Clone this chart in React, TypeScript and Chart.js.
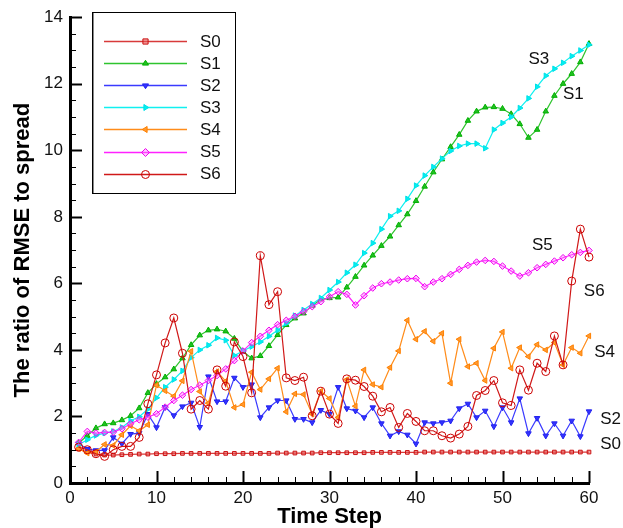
import React, { useEffect, useRef } from 'react';
import { Chart, registerables } from 'chart.js';

Chart.register(...registerables);

// ---- data ----
const steps = [
  1, 2, 3, 4, 5, 6, 7, 8, 9, 10, 11, 12, 13, 14, 15, 16, 17, 18, 19, 20,
  21, 22, 23, 24, 25, 26, 27, 28, 29, 30, 31, 32, 33, 34, 35, 36, 37, 38, 39, 40,
  41, 42, 43, 44, 45, 46, 47, 48, 49, 50, 51, 52, 53, 54, 55, 56, 57, 58, 59, 60,
];

const S0 = [
  1.02, 0.93, 0.87, 0.84, 0.84, 0.85, 0.86, 0.87, 0.87, 0.88, 0.88, 0.88, 0.89, 0.89, 0.89,
  0.89, 0.89, 0.89, 0.89, 0.89, 0.89, 0.89, 0.89, 0.9, 0.9, 0.9, 0.9, 0.9, 0.91, 0.91,
  0.91, 0.91, 0.91, 0.91, 0.92, 0.92, 0.92, 0.92, 0.92, 0.92, 0.93, 0.93, 0.93, 0.93, 0.93,
  0.93, 0.93, 0.93, 0.93, 0.93, 0.93, 0.93, 0.93, 0.93, 0.93, 0.93, 0.93, 0.93, 0.93, 0.93,
];
const S1 = [
  1.2, 1.42, 1.65, 1.77, 1.8, 1.89, 2.02, 2.25, 2.71, 2.98, 3.18, 3.42, 3.75, 4.15, 4.44,
  4.59, 4.62, 4.56, 4.34, 3.95, 3.75, 3.82, 4.12, 4.45, 4.75, 4.95, 5.1, 5.33, 5.52, 5.56,
  5.58, 5.88, 6.2, 6.54, 6.84, 7.13, 7.41, 7.75, 8.08, 8.48, 8.91, 9.34, 9.73, 10.1, 10.47,
  10.89, 11.17, 11.29, 11.3, 11.25, 11.09, 10.79, 10.38, 10.62, 11.17, 11.64, 12.0, 12.3, 12.65, 13.2,
];
const S2 = [
  1.18, 1.02, 0.98, 0.98, 1.37, 1.18, 1.47, 1.5, 2.07, 1.67, 2.28, 2.03, 2.3, 2.41, 1.68,
  3.2, 2.45, 2.45, 3.16, 2.88, 2.96, 1.97, 2.27, 2.48, 2.48, 1.92, 1.92, 1.82, 2.19, 2.07,
  2.88, 2.24, 2.17, 1.97, 2.27, 1.79, 1.42, 1.55, 1.45, 1.18, 1.82, 1.79, 1.82, 1.87, 2.24,
  2.38, 1.97, 2.17, 1.7, 2.27, 1.82, 2.54, 1.49, 1.95, 1.42, 1.79, 1.42, 1.87, 1.4, 2.15,
];
const S3 = [
  1.15, 1.3, 1.43, 1.5, 1.55, 1.67, 1.87, 1.99, 2.22, 2.56, 2.88, 3.11, 3.37, 3.77, 4.0,
  4.14, 4.36, 4.29, 3.83, 3.97, 4.1, 4.24, 4.41, 4.59, 4.8, 5.03, 5.2, 5.38, 5.56, 5.8,
  6.04, 6.32, 6.56, 6.91, 7.21, 7.63, 8.02, 8.18, 8.54, 8.94, 9.24, 9.5, 9.75, 9.98, 10.13,
  10.2, 10.2, 10.06, 10.62, 10.82, 11.0, 11.27, 11.56, 11.91, 12.24, 12.45, 12.63, 12.83, 13.0, 13.17,
];
const S4 = [
  1.03, 0.9, 0.93, 1.16, 1.13, 1.45, 1.72, 1.57, 1.75, 2.94, 2.77, 2.61, 3.07, 3.96, 2.75,
  2.4, 3.35, 3.06, 2.27, 2.36, 3.33, 2.81, 3.13, 3.45, 2.14, 2.68, 2.66, 2.07, 2.76, 2.54,
  1.97, 3.11, 2.31, 3.4, 2.96, 2.88, 3.47, 3.97, 4.89, 4.32, 4.56, 4.26, 4.5, 3.0, 4.32,
  3.5, 3.6, 3.08, 4.05, 4.54, 3.45, 4.07, 3.8, 4.16, 4.0, 4.22, 3.55, 4.07, 3.9, 4.42,
];
const S5 = [
  1.22, 1.55, 1.5, 1.52, 1.53, 1.63, 1.78, 1.9, 1.98, 2.08, 2.28, 2.48, 2.64, 2.81, 2.94,
  3.08, 3.23, 3.43, 3.68, 3.97, 4.22, 4.41, 4.59, 4.76, 4.89, 5.01, 5.15, 5.3, 5.45, 5.6,
  5.75, 5.67, 5.35, 5.63, 5.86, 5.99, 6.04, 6.1, 6.14, 6.15, 5.9, 6.04, 6.14, 6.27, 6.42,
  6.54, 6.64, 6.69, 6.66, 6.52, 6.37, 6.22, 6.32, 6.47, 6.57, 6.67, 6.77, 6.86, 6.93, 6.99,
];
const S6 = [
  1.08, 1.0, 0.88, 0.8, 1.0, 1.1, 1.1, 1.37, 2.38, 3.25, 4.21, 4.96, 3.9, 2.22, 2.48,
  2.22, 3.4, 2.91, 4.24, 3.8, 2.71, 6.83, 5.36, 5.75, 3.16, 3.08, 3.18, 2.02, 2.76, 2.07,
  1.79, 3.13, 3.09, 2.9, 2.61, 2.14, 2.27, 1.67, 2.09, 1.85, 1.57, 1.57, 1.42, 1.35, 1.47,
  1.7, 2.63, 2.78, 3.08, 2.41, 2.33, 3.4, 2.79, 3.6, 3.35, 4.42, 3.55, 6.07, 7.63, 6.79,
];

const seriesNames = ['S0', 'S1', 'S2', 'S3', 'S4', 'S5', 'S6'];
const seriesValues = [S0, S1, S2, S3, S4, S5, S6];

const xTickValues = [0, 10, 20, 30, 40, 50, 60];
const yTickValues = [0, 2, 4, 6, 8, 10, 12, 14];

// end-of-line annotation labels: [name, x, y] in data units
const endLabels: [string, number, number][] = [
  ['S3', 54.2, 12.73],
  ['S1', 58.2, 11.69],
  ['S5', 54.6, 7.15],
  ['S6', 60.6, 5.76],
  ['S4', 61.8, 3.92],
  ['S2', 62.5, 1.9],
  ['S0', 62.5, 1.16],
];

// ---- styles ----
const styles = [
  { line: '#d83a3a', point: '#cc1111', fill: 'rgba(230,90,90,0.55)', shape: 'rect', rot: 0, r: 2.6 },
  { line: '#2ec42e', point: '#00b000', fill: '#22c022', shape: 'triangle', rot: 0, r: 3.2 },
  { line: '#3a3aff', point: '#2222ee', fill: '#3333ff', shape: 'triangle', rot: 180, r: 3.2 },
  { line: '#10f0f0', point: '#00e0e8', fill: '#00f0f0', shape: 'triangle', rot: 90, r: 3.2 },
  { line: '#ff8c1a', point: '#ff8000', fill: '#ff9a30', shape: 'triangle', rot: -90, r: 3.2 },
  { line: '#ff22ff', point: '#ee00ee', fill: 'rgba(255,120,255,0.35)', shape: 'rectRot', rot: 0, r: 3.3 },
  { line: '#d01818', point: '#cc0000', fill: 'rgba(0,0,0,0)', shape: 'circle', rot: 0, r: 4 },
];

const FONT = "'Liberation Sans', Arial, Helvetica, sans-serif";

function drawMarker(ctx: CanvasRenderingContext2D, i: number, x: number, y: number) {
  const s = styles[i];
  const r = s.r;
  ctx.save();
  ctx.translate(x, y);
  ctx.rotate((s.rot * Math.PI) / 180);
  ctx.beginPath();
  if (s.shape === 'rect') {
    ctx.rect(-r, -r, 2 * r, 2 * r);
  } else if (s.shape === 'rectRot') {
    ctx.moveTo(0, -r * 1.2);
    ctx.lineTo(r * 1.2, 0);
    ctx.lineTo(0, r * 1.2);
    ctx.lineTo(-r * 1.2, 0);
    ctx.closePath();
  } else if (s.shape === 'circle') {
    ctx.arc(0, 0, r, 0, Math.PI * 2);
  } else {
    const h = r * 1.5;
    ctx.moveTo(0, -r);
    ctx.lineTo(r * 0.95, h - r);
    ctx.lineTo(-r * 0.95, h - r);
    ctx.closePath();
  }
  ctx.fillStyle = s.fill;
  ctx.fill();
  ctx.lineWidth = 1;
  ctx.strokeStyle = s.point;
  ctx.stroke();
  ctx.restore();
}

const decorPlugin = {
  id: 'decor',
  afterDraw(chart: any) {
    const { ctx, chartArea: a, scales } = chart;
    const xs = scales.x;
    const ys = scales.y;
    ctx.save();
    ctx.strokeStyle = '#000';
    // inward ticks on y axis
    for (let k = 0; k <= 28; k++) {
      const v = k * 0.5;
      const py = Math.round(ys.getPixelForValue(v)) + 0.5;
      const major = k % 4 === 0;
      ctx.lineWidth = major ? 2 : 1;
      ctx.beginPath();
      ctx.moveTo(a.left, py);
      ctx.lineTo(a.left + (major ? 12 : 6), py);
      ctx.stroke();
    }
    // inward ticks on x axis
    for (let k = 0; k <= 30; k++) {
      const v = k * 2;
      const px = Math.round(xs.getPixelForValue(v)) + 0.5;
      const major = v % 10 === 0;
      ctx.lineWidth = major ? 2 : 1;
      ctx.beginPath();
      ctx.moveTo(px, a.bottom);
      ctx.lineTo(px, a.bottom - (major ? 12 : 6));
      ctx.stroke();
    }

    // legend box
    const bx = 92, by = 12, bw = 143, bh = 181;
    ctx.fillStyle = '#fff';
    ctx.fillRect(bx, by, bw, bh);
    ctx.lineWidth = 1;
    ctx.strokeStyle = '#000';
    ctx.strokeRect(bx + 0.5, by + 0.5, bw, bh);
    ctx.strokeStyle = '#888';
    ctx.beginPath();
    ctx.moveTo(bx + 1.5, by + 1);
    ctx.lineTo(bx + 1.5, by + bh);
    ctx.stroke();

    ctx.font = `17px ${FONT}`;
    ctx.textAlign = 'left';
    ctx.textBaseline = 'middle';
    seriesNames.forEach((name, i) => {
      const ry = 41 + i * 22.1;
      ctx.strokeStyle = styles[i].line;
      ctx.lineWidth = 1.5;
      ctx.beginPath();
      ctx.moveTo(104, Math.round(ry) + 0.5);
      ctx.lineTo(187, Math.round(ry) + 0.5);
      ctx.stroke();
      drawMarker(ctx, i, 145.5, Math.round(ry) + 0.5);
      ctx.fillStyle = '#111';
      ctx.fillText(name, 200, ry + 1);
    });

    // end labels
    ctx.font = `17px ${FONT}`;
    ctx.textAlign = 'center';
    ctx.fillStyle = '#111';
    endLabels.forEach(([t, vx, vy]) => {
      ctx.fillText(t, xs.getPixelForValue(vx), ys.getPixelForValue(vy));
    });
    ctx.restore();
  },
};

export default function App() {
  const ref = useRef<HTMLCanvasElement | null>(null);

  useEffect(() => {
    if (!ref.current) return;
    const datasets = seriesValues.map((vals, i) => ({
      label: seriesNames[i],
      data: steps.map((s, j) => ({ x: s, y: vals[j] })),
      borderColor: styles[i].line,
      borderWidth: 1.2,
      pointStyle: styles[i].shape,
      pointRotation: styles[i].rot,
      pointRadius: styles[i].r,
      pointBorderWidth: 1,
      pointBorderColor: styles[i].point,
      pointBackgroundColor: styles[i].fill,
      tension: 0,
      fill: false,
      clip: false as any,
      order: 6 - i,
    }));

    const chart = new Chart(ref.current, {
      type: 'line',
      data: { datasets },
      plugins: [decorPlugin],
      options: {
        animation: false,
        responsive: false,
        devicePixelRatio: 1,
        layout: { padding: { top: 11, right: 34, left: 0, bottom: 0 } },
        plugins: { legend: { display: false }, tooltip: { enabled: false } },
        scales: {
          x: {
            type: 'linear',
            min: 0,
            max: 60,
            afterFit: (s: any) => { s.height = 45; },
            afterBuildTicks: (s: any) => { s.ticks = xTickValues.map((v) => ({ value: v })); },
            grid: { display: false, drawTicks: false },
            border: { display: true, width: 3, color: '#000' },
            ticks: { padding: 5, color: '#111', font: { family: FONT, size: 17 }, maxRotation: 0 },
            title: {
              display: true,
              text: 'Time Step',
              color: '#000',
              font: { family: FONT, size: 22, weight: 'bold', lineHeight: 1 },
              padding: { top: 0, bottom: 0 },
            },
          },
          y: {
            type: 'linear',
            min: 0,
            max: 14,
            afterFit: (s: any) => { s.width = 70; },
            afterBuildTicks: (s: any) => { s.ticks = yTickValues.map((v) => ({ value: v })); },
            grid: { display: false, drawTicks: false },
            border: { display: true, width: 3, color: '#000' },
            ticks: { padding: 7, color: '#111', font: { family: FONT, size: 17 } },
            title: {
              display: true,
              text: 'The ratio of RMSE to spread',
              color: '#000',
              font: { family: FONT, size: 22, weight: 'bold', lineHeight: 1 },
              padding: { top: 12, bottom: 0 },
            },
          },
        },
      } as any,
    });
    return () => chart.destroy();
  }, []);

  return (
    <div style={{ position: 'fixed', left: 0, top: 0, width: 623, height: 528, background: '#fff' }}>
      <canvas ref={ref} width={623} height={528} style={{ display: 'block' }} />
    </div>
  );
}
